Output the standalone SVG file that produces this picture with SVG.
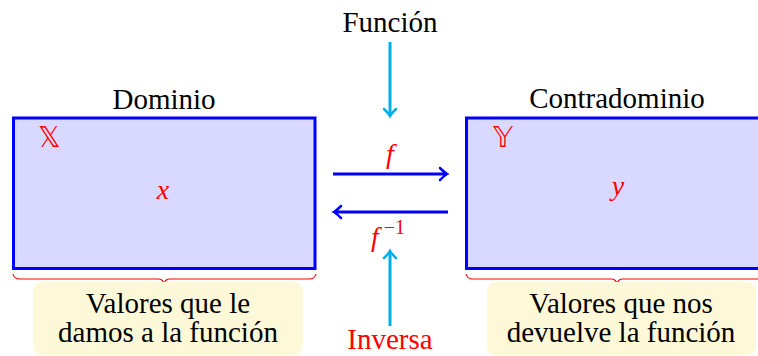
<svg xmlns="http://www.w3.org/2000/svg" width="758" height="356" viewBox="0 0 758 356">
<defs>
<style>
.t{font-family:"Liberation Serif","DejaVu Serif",serif;font-size:29px;fill:#000;text-anchor:middle}
.r{fill:#ff0000}
.m{font-family:"Liberation Serif","DejaVu Serif",serif;font-style:italic;font-size:28px;fill:#ff0000;text-anchor:middle}
.ms{font-family:"Liberation Serif","DejaVu Serif",serif;font-style:italic;font-size:28px;fill:#ff0000;text-anchor:start}
.ds{font-family:"DejaVu Sans","DejaVu Serif",sans-serif;font-size:28px;fill:#ff0000}
.set{fill:#d9d9ff;stroke:#0000ff;stroke-width:3}
.note{fill:#fdf8d8;stroke:none}
.brace{fill:none;stroke:#ff0000;stroke-width:1.2}
.cy{fill:none;stroke:#00aeef;stroke-width:3}
.bl{fill:none;stroke:#0000ff;stroke-width:3}
</style>
<marker id="ac" markerUnits="userSpaceOnUse" markerWidth="16" markerHeight="16" refX="0" refY="0" viewBox="-10 -8 12 16" orient="auto" overflow="visible">
<path d="M-7,-6 Q-2,-1 0,0 Q-2,1 -7,6" fill="none" stroke="#00aeef" stroke-width="2.5" stroke-linecap="round"/>
</marker>
<marker id="ab" markerUnits="userSpaceOnUse" markerWidth="16" markerHeight="16" refX="0" refY="0" viewBox="-10 -8 12 16" orient="auto" overflow="visible">
<path d="M-7,-6 Q-2,-1 0,0 Q-2,1 -7,6" fill="none" stroke="#0000ff" stroke-width="2.5" stroke-linecap="round"/>
</marker>
</defs>
<g id="dominio">
<text class="t" x="164" y="109">Dominio</text>
<rect class="set" x="13.5" y="118" width="301.5" height="150.5"/>
<text class="ds" x="38" y="147">𝕏</text>
<text class="m" x="163" y="199">x</text>
</g>
<g id="contradominio">
<text class="t" x="617" y="108">Contradominio</text>
<rect class="set" x="466.5" y="118" width="301.5" height="150.5"/>
<text class="ds" x="493" y="147">𝕐</text>
<text class="m" x="618" y="195">y</text>
</g>
<g id="nota-dominio">
<path class="brace" d="M13,274 Q14,279 20,279 L158,279 Q163,279 164,284 Q165,279 170,279 L309,279 Q315,279 316,274"/>
<rect class="note" x="33" y="282" width="270" height="73" rx="9"/>
<text class="t" x="168" y="313">Valores que le</text>
<text class="t" x="168" y="342">damos a la función</text>
</g>
<g id="nota-contradominio">
<path class="brace" d="M466,274 Q467,279 473,279 L611,279 Q616,279 617,284 Q618,279 623,279 L762,279 Q768,279 769,274"/>
<rect class="note" x="487" y="282" width="269" height="73" rx="9"/>
<text class="t" x="621" y="313">Valores que nos</text>
<text class="t" x="621" y="342">devuelve la función</text>
</g>
<g id="funcion">
<text class="t" x="390" y="32">Función</text>
</g>
<g id="inversa">
<text class="t r" x="390" y="349">Inversa</text>
</g>
<g id="etiquetas">
<text class="m" x="390" y="163">f</text>
<text class="ms" x="371" y="246">f<tspan font-size="20" font-style="normal" dx="5" dy="-12">−1</tspan></text>
</g>
<g id="conectores">
<line class="cy" x1="390" y1="42" x2="390" y2="116" marker-end="url(#ac)"/>
<line class="cy" x1="390" y1="326" x2="390" y2="251" marker-end="url(#ac)"/>
<line class="bl" x1="333" y1="174" x2="447" y2="174" marker-end="url(#ab)"/>
<line class="bl" x1="448" y1="212" x2="334" y2="212" marker-end="url(#ab)"/>
</g>
</svg>
